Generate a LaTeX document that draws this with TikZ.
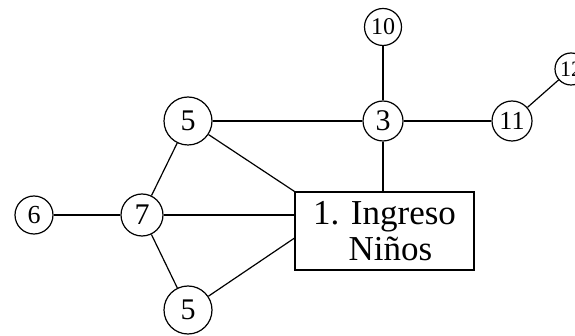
\documentclass[tikz,border=0pt]{standalone}
\usepackage{fontspec}
\setmainfont{Liberation Serif}
\usetikzlibrary{calc}
\begin{document}
\begin{tikzpicture}[x=1pt,y=-1pt,line width=1.2pt,
  nd/.style={circle,draw,inner sep=0pt,font=\fontsize{30}{30}\selectfont}]
\useasboundingbox (0,0) rectangle (575,336);
\clip (0,0) rectangle (575,336);
\node[nd,minimum size=37pt,font=\fontsize{24}{24}\selectfont] (n10) at (383,27) {10};
\node[nd,minimum size=40pt] (n3) at (383,121) {3};
\node[nd,minimum size=40pt,font=\fontsize{26}{26}\selectfont] (n11) at (512,121) {11};
\node[nd,minimum size=32pt,font=\fontsize{22}{22}\selectfont] (n12) at (571,69) {12};
\node[nd,minimum size=48pt] (n5a) at (188,121) {5};
\node[nd,minimum size=42pt] (n7) at (142,215) {7};
\node[nd,minimum size=38pt,font=\fontsize{26}{26}\selectfont] (n6) at (34,215) {6};
\node[nd,minimum size=48pt] (n5b) at (188,310) {5};
\node[draw,minimum width=179pt,minimum height=78pt,inner sep=0pt,align=center,
  font=\fontsize{35}{36}\selectfont] (box) at (384.5,231) {1. Ingreso\\\hspace*{12pt}Niños};
\coordinate (bl) at ($(box.south west)!0.41!(box.north west)$);
\draw (n10) -- (n3);
\draw (n3) -- (n11);
\draw (n11) -- (n12);
\draw (n5a) -- (n3);
\draw (n3) -- (n3 |- box.north);
\draw (n5a) -- (box.north west);
\draw (n7) -- (n7 -| box.west);
\draw (n5b) -- (bl);
\draw (n6) -- (n7);
\draw (n7) -- (n5a);
\draw (n7) -- (n5b);
\end{tikzpicture}
\end{document}
